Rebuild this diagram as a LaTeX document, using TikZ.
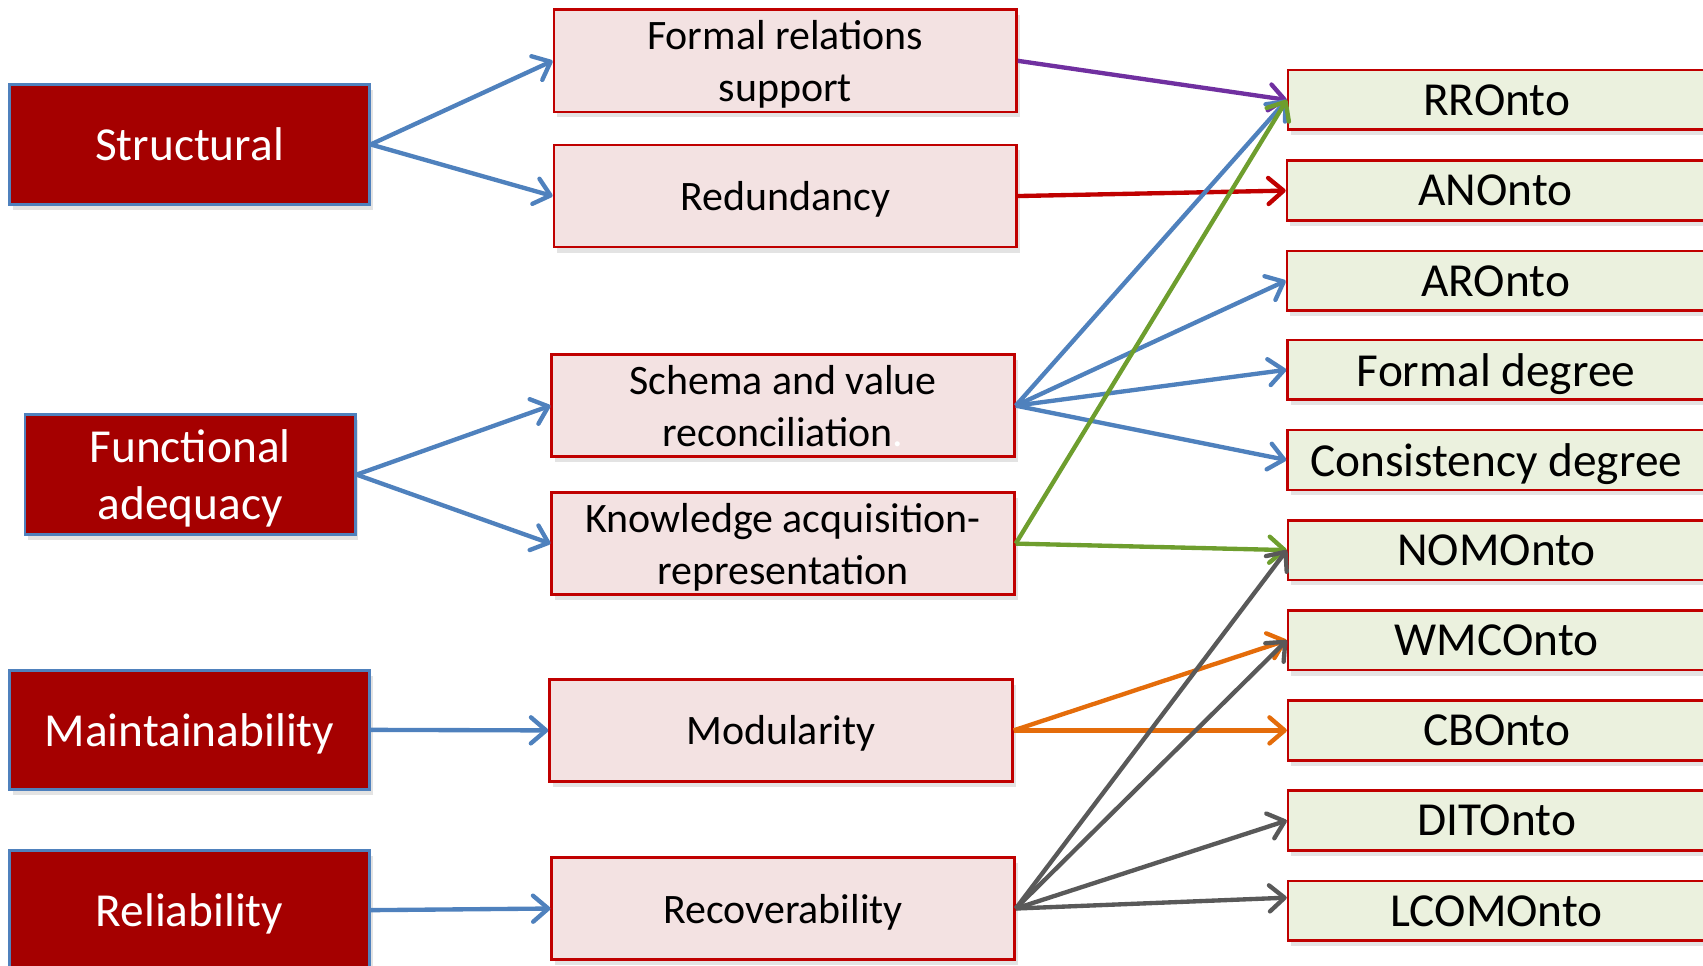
\documentclass[tikz,border=0pt]{standalone}
\usepackage{fontspec}
\setmainfont{Carlito}
\usetikzlibrary{arrows.meta,shadows}

\definecolor{critred}{RGB}{165,0,0}
\definecolor{critblue}{RGB}{79,129,189}
\definecolor{boxred}{RGB}{192,0,0}
\definecolor{subpink}{RGB}{243,226,226}
\definecolor{metgreen}{RGB}{235,241,222}
\definecolor{arrpurple}{RGB}{112,48,160}
\definecolor{arrgreen}{RGB}{110,158,46}
\definecolor{arrorange}{RGB}{228,108,10}
\definecolor{arrgray}{RGB}{89,89,89}

\tikzset{every picture/.style={line width=0.75pt}}
\tikzset{
  boxshadow/.style={drop shadow={shadow xshift=1.5pt,shadow yshift=-2.5pt,opacity=0.22}},
  criterion/.style={boxshadow,draw=critblue,line width=1.3pt,fill=critred,text=white,align=center,
    inner sep=0pt,text depth=0pt,minimum width=165.5pt,minimum height=55pt,font=\fontsize{21.8}{26.5}\selectfont},
  subcrit/.style={boxshadow,draw=boxred,line width=1.2pt,fill=subpink,align=center,
    inner sep=0pt,text depth=0pt,minimum width=213pt,minimum height=47pt,font=\fontsize{19.3}{24}\selectfont},
  metric/.style={boxshadow,draw=boxred,line width=1.2pt,fill=metgreen,align=center,
    inner sep=0pt,text depth=0pt,minimum width=192pt,minimum height=27.5pt,font=\fontsize{21.8}{26}\selectfont},
  link/.style={line width=2pt,-{Straight Barb[length=7pt,width=12pt,round]}},
}

\begin{document}
\begin{tikzpicture}[x=0.5pt,y=0.5pt,yscale=-1,xscale=1]
\useasboundingbox (0,0) rectangle (1568,889);

% Criteria
\node [criterion] (struct) at (174.5,133) {Structural};
\node [criterion,minimum width=152pt] (func) at (175,437) {Functional\\adequacy};
\node [criterion] (maint) at (174.5,672) {Maintainability};
\node [criterion] (rel) at (174.5,838) {Reliability};

% Sub-criteria
\node [subcrit] (frs) at (723,56) {Formal relations\\support};
\node [subcrit] (redund) at (723,180.5) {Redundancy};
\node [subcrit] (svr) at (721,373.5) {Schema and value\\reconciliation\textcolor{white}{.}};
\node [subcrit] (kar) at (721,500.5) {Knowledge acquisition-\\representation};
\node [subcrit] (modul) at (719,672.5) {Modularity};
\node [subcrit] (recov) at (721,836.5) {Recoverability};

% Metrics
\node [metric] (rr) at (1378,92) {RROnto};
\node [metric] (an) at (1377,175.5) {ANOnto};
\node [metric] (ar) at (1377,258.5) {AROnto};
\node [metric] (fdeg) at (1377.5,340.5) {Formal degree};
\node [metric] (cdeg) at (1377.5,423.5) {Consistency degree};
\node [metric] (nom) at (1378,506.5) {NOMOnto};
\node [metric] (wmc) at (1378,589.5) {WMCOnto};
\node [metric] (cb) at (1378,672.5) {CBOnto};
\node [metric] (dit) at (1378,755.5) {DITOnto};
\node [metric] (lcom) at (1378,838.5) {LCOMOnto};

%Straight Lines: criteria to sub-criteria
\draw [link,critblue] (struct.east) -- (frs.west);
\draw [link,critblue] (struct.east) -- (redund.west);
\draw [link,critblue] (func.east) -- (svr.west);
\draw [link,critblue] (func.east) -- (kar.west);
\draw [link,critblue] (maint.east) -- (modul.west);
\draw [link,critblue] (rel.east) -- (recov.west);

%Straight Lines: sub-criteria to metrics
\draw [link,arrpurple] (frs.east) -- (rr.west);
\draw [link,boxred] (redund.east) -- (an.west);
\draw [link,critblue] (svr.east) -- (rr.west);
\draw [link,critblue] (svr.east) -- (ar.west);
\draw [link,critblue] (svr.east) -- (fdeg.west);
\draw [link,critblue] (svr.east) -- (cdeg.west);
\draw [link,arrgreen] (kar.east) -- (rr.west);
\draw [link,arrgreen] (kar.east) -- (nom.west);
\draw [link,arrorange] (modul.east) -- (wmc.west);
\draw [link,arrorange] (modul.east) -- (cb.west);
\draw [link,arrgray] (recov.east) -- (nom.west);
\draw [link,arrgray] (recov.east) -- (wmc.west);
\draw [link,arrgray] (recov.east) -- (dit.west);
\draw [link,arrgray] (recov.east) -- ([yshift=-6pt]lcom.west);

\end{tikzpicture}
\end{document}
